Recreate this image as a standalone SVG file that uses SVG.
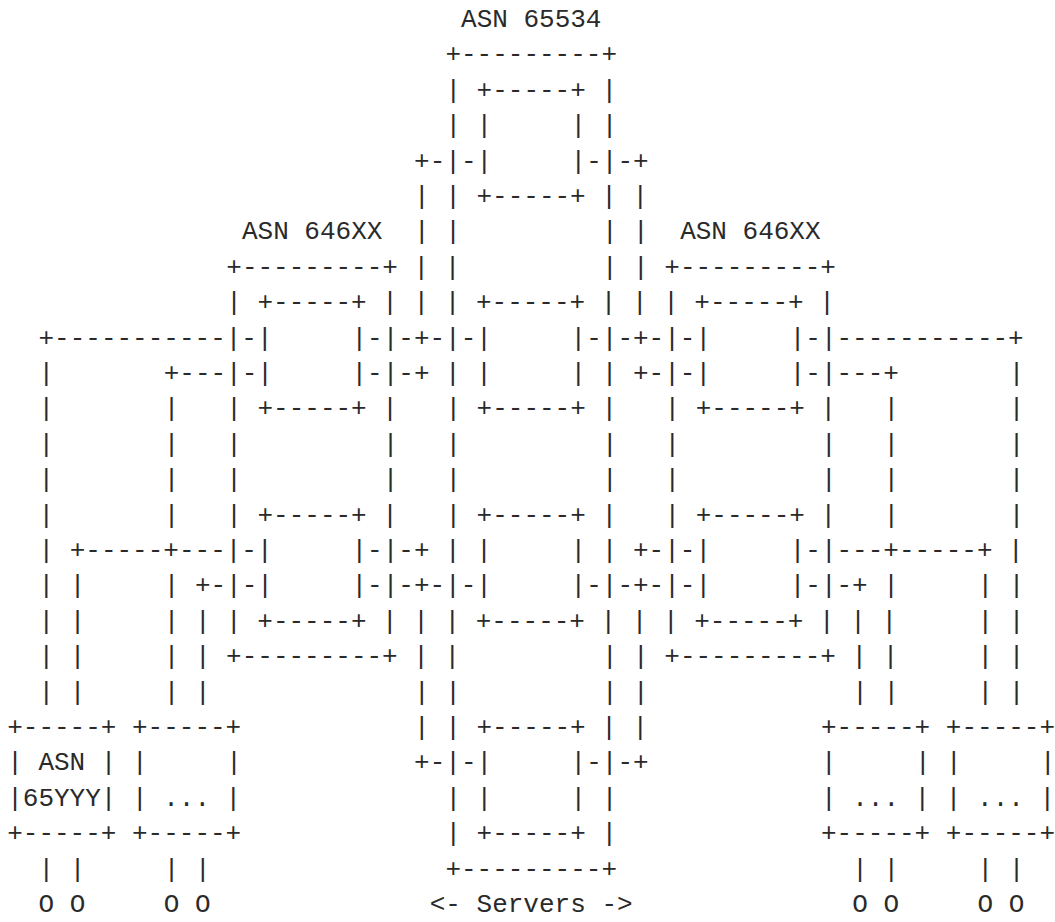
<svg xmlns="http://www.w3.org/2000/svg" width="1055" height="922" viewBox="0 0 1055 922" xml:space="preserve">
<style>
  .art text { font-family: "Liberation Mono", "DejaVu Sans Mono", monospace; font-size: 26px; fill: #2a2a2a; white-space: pre; }
</style>
<rect width="1055" height="922" fill="#ffffff"/>
<g id="ascii-diagram" class="art">
<text y="27"><tspan x="461.05">ASN 65534</tspan></text>
<text y="62.4"><tspan x="445.4">+---------+</tspan></text>
<text y="97.8"><tspan x="445.4">| +-----+ |</tspan></text>
<text y="133.2"><tspan x="445.4">| |</tspan><tspan x="570.6">| |</tspan></text>
<text y="168.6"><tspan x="414.1">+-|-|</tspan><tspan x="570.6">|-|-+</tspan></text>
<text y="204"><tspan x="414.1">| | +-----+ | |</tspan></text>
<text y="239.4"><tspan x="241.95">ASN 646XX</tspan><tspan x="414.1">| |</tspan><tspan x="601.9">| |</tspan><tspan x="680.15">ASN 646XX</tspan></text>
<text y="274.8"><tspan x="226.3">+---------+ | |</tspan><tspan x="601.9">| | +---------+</tspan></text>
<text y="310.2"><tspan x="226.3">| +-----+ | | | +-----+ | | | +-----+ |</tspan></text>
<text y="345.6"><tspan x="38.5">+-----------|-|</tspan><tspan x="351.5">|-|-+-|-|</tspan><tspan x="570.6">|-|-+-|-|</tspan><tspan x="789.7">|-|-----------+</tspan></text>
<text y="381"><tspan x="38.5">|</tspan><tspan x="163.7">+---|-|</tspan><tspan x="351.5">|-|-+ | |</tspan><tspan x="570.6">| | +-|-|</tspan><tspan x="789.7">|-|---+</tspan><tspan x="1008.8">|</tspan></text>
<text y="416.4"><tspan x="38.5">|</tspan><tspan x="163.7">|</tspan><tspan x="226.3">| +-----+ |</tspan><tspan x="445.4">| +-----+ |</tspan><tspan x="664.5">| +-----+ |</tspan><tspan x="883.6">|</tspan><tspan x="1008.8">|</tspan></text>
<text y="451.8"><tspan x="38.5">|</tspan><tspan x="163.7">|</tspan><tspan x="226.3">|</tspan><tspan x="382.8">|</tspan><tspan x="445.4">|</tspan><tspan x="601.9">|</tspan><tspan x="664.5">|</tspan><tspan x="821">|</tspan><tspan x="883.6">|</tspan><tspan x="1008.8">|</tspan></text>
<text y="487.2"><tspan x="38.5">|</tspan><tspan x="163.7">|</tspan><tspan x="226.3">|</tspan><tspan x="382.8">|</tspan><tspan x="445.4">|</tspan><tspan x="601.9">|</tspan><tspan x="664.5">|</tspan><tspan x="821">|</tspan><tspan x="883.6">|</tspan><tspan x="1008.8">|</tspan></text>
<text y="522.6"><tspan x="38.5">|</tspan><tspan x="163.7">|</tspan><tspan x="226.3">| +-----+ |</tspan><tspan x="445.4">| +-----+ |</tspan><tspan x="664.5">| +-----+ |</tspan><tspan x="883.6">|</tspan><tspan x="1008.8">|</tspan></text>
<text y="558"><tspan x="38.5">| +-----+---|-|</tspan><tspan x="351.5">|-|-+ | |</tspan><tspan x="570.6">| | +-|-|</tspan><tspan x="789.7">|-|---+-----+ |</tspan></text>
<text y="593.4"><tspan x="38.5">| |</tspan><tspan x="163.7">| +-|-|</tspan><tspan x="351.5">|-|-+-|-|</tspan><tspan x="570.6">|-|-+-|-|</tspan><tspan x="789.7">|-|-+ |</tspan><tspan x="977.5">| |</tspan></text>
<text y="628.8"><tspan x="38.5">| |</tspan><tspan x="163.7">| | | +-----+ | | | +-----+ | | | +-----+ | | |</tspan><tspan x="977.5">| |</tspan></text>
<text y="664.2"><tspan x="38.5">| |</tspan><tspan x="163.7">| | +---------+ | |</tspan><tspan x="601.9">| | +---------+ | |</tspan><tspan x="977.5">| |</tspan></text>
<text y="699.6"><tspan x="38.5">| |</tspan><tspan x="163.7">| |</tspan><tspan x="414.1">| |</tspan><tspan x="601.9">| |</tspan><tspan x="852.3">| |</tspan><tspan x="977.5">| |</tspan></text>
<text y="735"><tspan x="7.2">+-----+ +-----+</tspan><tspan x="414.1">| | +-----+ | |</tspan><tspan x="821">+-----+ +-----+</tspan></text>
<text y="770.4"><tspan x="7.2">| ASN | |</tspan><tspan x="226.3">|</tspan><tspan x="414.1">+-|-|</tspan><tspan x="570.6">|-|-+</tspan><tspan x="821">|</tspan><tspan x="914.9">| |</tspan><tspan x="1040.1">|</tspan></text>
<text y="805.8"><tspan x="7.2">|65YYY| | ... |</tspan><tspan x="445.4">| |</tspan><tspan x="570.6">| |</tspan><tspan x="821">| ... | | ... |</tspan></text>
<text y="841.2"><tspan x="7.2">+-----+ +-----+</tspan><tspan x="445.4">| +-----+ |</tspan><tspan x="821">+-----+ +-----+</tspan></text>
<text y="876.6"><tspan x="38.5">| |</tspan><tspan x="163.7">| |</tspan><tspan x="445.4">+---------+</tspan><tspan x="852.3">| |</tspan><tspan x="977.5">| |</tspan></text>
<text y="912"><tspan x="38.5">O O</tspan><tspan x="163.7">O O</tspan><tspan x="429.75">&lt;- Servers -&gt;</tspan><tspan x="852.3">O O</tspan><tspan x="977.5">O O</tspan></text>
</g>
</svg>
